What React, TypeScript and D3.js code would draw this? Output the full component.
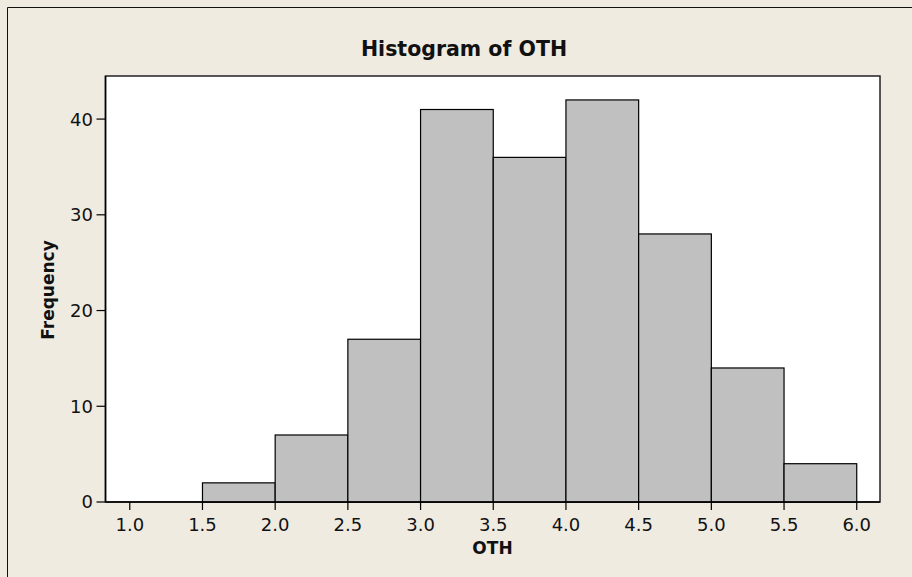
import React from "react";
import * as d3 from "d3";

const binStarts = [1.0, 1.5, 2.0, 2.5, 3.0, 3.5, 4.0, 4.5, 5.0, 5.5];
const binWidth = 0.5;
const counts = [0, 2, 7, 17, 41, 36, 42, 28, 14, 4];
const xTicks = [1.0, 1.5, 2.0, 2.5, 3.0, 3.5, 4.0, 4.5, 5.0, 5.5, 6.0];
const yTicks = [0, 10, 20, 30, 40];
const title = "Histogram of OTH";
const xLabel = "OTH";
const yLabel = "Frequency";

const W = 912;
const H = 577;
const L = 105.5, R = 880, T = 76, B = 502;
const FONT = "'DejaVu Sans', Verdana, sans-serif";

export default function App() {
  const x = d3.scaleLinear().domain([0.833, 6.16]).range([L, R]);
  const y = d3.scaleLinear().domain([0, 44.5]).range([B, T]);
  return (
    <svg width={W} height={H} style={{ position: "absolute", left: 0, top: 0, display: "block" }}>
      <rect x={0} y={0} width={W} height={H} fill="#EFEBE1" />
      <path d={`M7.5,${H} V7.5 H${W}`} fill="none" stroke="#111" strokeWidth={1} />
      <rect x={L} y={T} width={R - L} height={B - T} fill="#fff" stroke="#222" strokeWidth={1.5} />
      {binStarts.map((s, i) => (
        <rect key={i} x={x(s)} y={y(counts[i])} width={x(s + binWidth) - x(s)}
          height={y(0) - y(counts[i])} fill="#C0C0C0" stroke="#000" strokeWidth={1.2} />
      ))}
      <line x1={L} x2={R} y1={B} y2={B} stroke="#000" strokeWidth={1.5} />
      <line x1={L} x2={L} y1={T} y2={B} stroke="#000" strokeWidth={1.5} />
      {xTicks.map((t) => (
        <g key={t}>
          <line x1={x(t)} x2={x(t)} y1={B} y2={B + 8} stroke="#000" strokeWidth={1.2} />
          <text x={x(t)} y={530.5} textAnchor="middle" fontFamily={FONT} fontSize={18} fill="#111">
            {t.toFixed(1)}
          </text>
        </g>
      ))}
      {yTicks.map((t) => (
        <g key={t}>
          <line x1={L - 9} x2={L} y1={y(t)} y2={y(t)} stroke="#000" strokeWidth={1.2} />
          <text x={93} y={y(t)} dy="0.36em" textAnchor="end" fontFamily={FONT} fontSize={18} fill="#111">
            {t}
          </text>
        </g>
      ))}
      <text x={464} y={56} textAnchor="middle" fontFamily={FONT} fontSize={20.5} fontWeight="bold" fill="#111">
        {title}
      </text>
      <text x={492.5} y={554} textAnchor="middle" fontFamily={FONT} fontSize={17} fontWeight="bold" fill="#111">
        {xLabel}
      </text>
      <text transform={`translate(54,290) rotate(-90)`} textAnchor="middle" fontFamily={FONT} fontSize={17} fontWeight="bold" fill="#111">
        {yLabel}
      </text>
    </svg>
  );
}
